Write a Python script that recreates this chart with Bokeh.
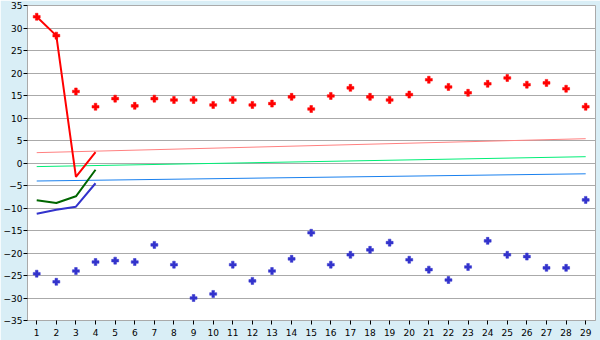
from bokeh.plotting import figure
from bokeh.models import Range1d, FixedTicker
from bokeh.embed import file_html
from bokeh.resources import INLINE

# ---- data ----
days = list(range(1, 30))
red_points = [32.5, 28.3, 15.9, 12.5, 14.3, 12.7, 14.3, 14.0, 14.0, 12.9,
              14.0, 12.9, 13.2, 14.7, 12.0, 14.9, 16.7, 14.7, 14.0, 15.2,
              18.5, 16.9, 15.6, 17.6, 18.9, 17.4, 17.8, 16.5, 12.5]
blue_points = [-24.6, -26.4, -24.0, -22.0, -21.7, -22.0, -18.2, -22.6, -30.0, -29.1,
               -22.6, -26.2, -24.0, -21.3, -15.5, -22.6, -20.4, -19.3, -17.7, -21.5,
               -23.7, -26.0, -23.1, -17.3, -20.4, -20.8, -23.3, -23.3, -8.2]
line_days = [1, 2, 3, 4]
red_line = [32.5, 28.3, -3.1, 2.4]
green_line = [-8.3, -8.9, -7.4, -1.5]
blue_line = [-11.3, -10.4, -9.7, -4.5]
trend_days = [1, 29]
pink_trend = [2.3, 5.4]
green_trend = [-0.8, 1.4]
blue_trend = [-4.0, -2.4]
y_ticks = list(range(-35, 40, 5))

BG = "#d9eef6"
GRID = "#aaaaaa"

p = figure(width=600, height=340, output_backend="svg", toolbar_location=None,
           x_range=Range1d(0.53, 29.5), y_range=Range1d(-35, 35),
           min_border_left=26, min_border_right=5, min_border_top=5, min_border_bottom=20)
p.background_fill_color = "white"
p.border_fill_color = BG
p.outline_line_color = GRID
p.outline_line_width = 1

p.xgrid.grid_line_color = None
p.ygrid.grid_line_color = GRID
p.ygrid.grid_line_width = 1

p.xaxis.ticker = FixedTicker(ticks=days)
p.yaxis.ticker = FixedTicker(ticks=y_ticks)
for ax in (p.xaxis, p.yaxis):
    ax.axis_line_color = GRID
    ax.major_tick_line_color = "black"
    ax.major_tick_out = 4
    ax.major_tick_in = 0
    ax.minor_tick_line_color = None
    ax.major_label_text_font = "DejaVu Sans"
    ax.major_label_text_font_size = "9px"
    ax.major_label_text_color = "black"
p.xaxis.major_label_standoff = 4
p.yaxis.major_label_standoff = 1

# trend lines
p.line(trend_days, pink_trend, line_color="#ff8080", line_width=1)
p.line(trend_days, green_trend, line_color="#00ee77", line_width=1)
p.line(trend_days, blue_trend, line_color="#1a80ee", line_width=1)

# short lines
p.line(line_days, green_line, line_color="#006600", line_width=2)
p.line(line_days, blue_line, line_color="#3333cc", line_width=2)
p.line(line_days, red_line, line_color="#ff0000", line_width=2)

# scatter points
p.scatter(days, red_points, marker="plus", size=7, fill_color="#ff0000",
          line_color="#ff0000", line_width=0.5)
p.scatter(days, blue_points, marker="plus", size=7, fill_color="#3333cc",
          line_color="#3333cc", line_width=0.5)

open("out.html", "w").write(file_html(p, INLINE))
